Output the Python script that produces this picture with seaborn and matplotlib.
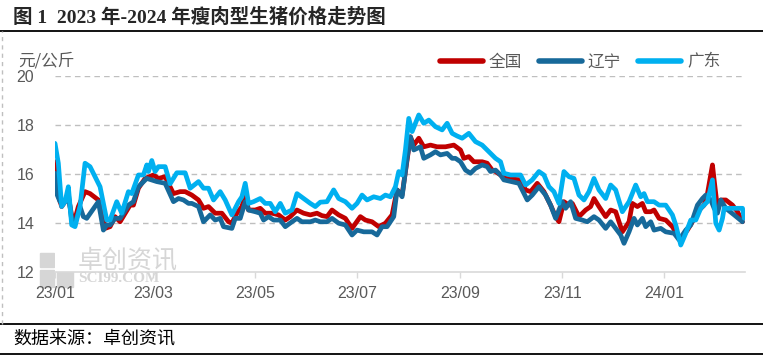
import pandas as pd
import numpy as np
import seaborn as sns
import matplotlib.pyplot as plt
import matplotlib.dates as mdates
from matplotlib.lines import Line2D
from matplotlib.patches import Rectangle

# days counted from 2023-01-01, prices in yuan/kg
gd_days = [0, 2, 4, 6, 8, 10, 12, 15, 18, 21, 27, 31, 33, 37, 40, 44, 46, 50, 53, 55, 56, 58, 60, 62, 66, 69, 73, 78, 81, 86,
           89, 92, 95, 99, 102, 106, 110, 112, 114, 116, 119, 123, 126, 129, 132, 135, 138, 142, 145, 149, 153, 156, 159, 163,
           167, 170, 174, 178, 181, 184, 187, 191, 195, 198, 201, 204, 206, 208, 210, 212, 214, 218, 221, 224, 228, 232, 235,
           238, 241, 244, 248, 252, 256, 260, 264, 267, 269, 273, 279, 282, 286, 290, 293, 296, 299, 302, 305, 308, 311, 314,
           317, 320, 323, 326, 330, 333, 336, 340, 344, 348, 351, 353, 355, 359, 362, 366, 370, 372, 375, 378, 381, 384, 387,
           391, 394, 396, 398, 400, 401, 412, 413]
gd_vals = [17.25, 16.44, 14.67, 14.87, 15.48, 13.92, 13.85, 14.67, 16.44, 16.3, 15.48, 14.12, 14.12, 14.87, 14.4, 15.28, 15.2,
           15.96, 15.96, 16.37, 16.1, 16.55, 16.1, 16.3, 16.3, 15.6, 16.05, 16.05, 15.42, 15.69,
           15.42, 15.42, 14.94, 15.28, 14.94, 14.33, 14.87, 15.07, 15.62, 14.8, 14.87, 15.0, 14.8, 14.8, 14.46, 14.8, 14.4,
           14.53, 15.2, 15.0, 14.8, 14.67, 14.85, 14.87,
           15.35, 15.0, 14.87, 14.6, 14.8, 15.14, 14.94, 15.07, 15.0, 15.14, 15.07, 15.48, 16.1, 15.96, 16.98, 18.27, 17.73,
           18.41, 18.07, 18.2, 17.93, 17.8, 18.07,
           17.66, 17.55, 17.46, 17.66, 17.32, 17.18, 16.91, 16.64, 16.5, 16.03, 15.96, 15.96, 15.55, 15.76, 16.1, 15.96,
           15.48, 15.28, 14.8, 16.1, 15.89, 15.82, 15.14,
           14.94, 15.28, 15.82, 15.35, 15.0, 15.55, 15.35, 14.46, 14.87, 15.55, 15.07, 15.2, 14.87, 14.87, 14.73, 14.73,
           14.33, 13.92, 13.1, 13.58, 14.12, 14.12, 14.6,
           14.87, 15.76, 13.99, 13.71, 14.19, 14.6, 14.6, 14.2]

qg_days = [0, 1, 4, 6, 8, 11, 14, 18, 21, 26, 29, 30, 33, 36, 39, 45, 47, 50, 54, 59, 62, 66, 71, 75, 78, 82, 86, 89, 92, 96,
           100, 104, 106, 109, 112, 114, 116, 120, 123, 126, 130, 134, 138, 141, 145, 149, 153, 157, 160, 163, 166, 170, 174,
           178, 183, 186, 190, 194, 198, 202, 205, 208, 211, 213, 215, 218, 221, 225, 229, 234, 239, 243, 245, 248, 251, 256,
           259, 262, 264, 267, 270, 279, 282, 285, 289, 293, 297, 300, 302, 305, 308, 310, 314, 318, 321, 323, 326, 330, 333,
           336, 340, 344, 346, 349, 352, 354, 357, 359, 362, 366, 370, 373, 375, 379, 382, 385, 389, 391, 394, 395, 397, 399,
           402, 406, 409, 412]
qg_vals = [16.5, 15.35, 14.67, 14.87, 15.07, 13.92, 14.67, 15.28, 15.2, 14.94, 14.26, 13.78, 13.85, 14.26, 14.05, 14.73, 14.73,
           15.42, 15.82, 15.96, 15.82, 15.89, 15.2, 15.28, 15.28, 15.14, 14.94, 14.6, 14.67, 14.4,
           14.4, 14.05, 13.99, 14.4, 14.67, 15.14, 14.53, 14.53, 14.6, 14.4, 14.4, 14.33, 14.12, 14.26, 14.53, 14.4, 14.33,
           14.4, 14.3, 14.26, 14.53, 14.33, 14.19,
           13.78, 14.26, 14.12, 14.05, 13.85, 13.99, 14.33, 15.35, 15.14, 16.57, 17.52, 17.18, 17.46, 17.11, 17.18, 17.11,
           17.11, 17.18, 16.98, 16.64, 16.71, 16.5, 16.5,
           16.44, 16.16, 16.1, 15.96, 15.82, 15.76, 15.35, 15.28, 15.62, 15.28, 14.73, 14.26, 14.05, 14.87, 14.73, 14.8,
           14.26, 14.53, 14.67, 15.0, 14.67, 14.26, 14.53,
           14.46, 13.64, 14.05, 14.8, 14.67, 14.8, 14.46, 14.46, 14.53, 14.19, 14.12, 13.85, 13.51, 13.38, 13.71, 14.05,
           14.46, 14.73, 15.2, 16.37, 15.76, 14.6, 14.94,
           14.94, 14.73, 14.46, 14.05]

ln_days = [0, 1, 3, 6, 8, 10, 12, 15, 17, 19, 26, 29, 31, 33, 36, 39, 44, 47, 50, 55, 61, 66, 71, 74, 77, 80, 82, 86, 89, 93,
           96, 99, 101, 106, 108, 111, 114, 116, 120, 123, 125, 128, 131, 135, 138, 142, 145, 148, 153, 156, 159, 163, 166,
           170, 174, 178, 181, 185, 190, 193, 196, 199, 203, 205, 208, 211, 213, 215, 219, 221, 225, 228, 231, 235, 238, 240,
           243, 246, 249, 252, 256, 259, 261, 264, 267, 269, 278, 280, 283, 286, 290, 294, 297, 300, 302, 304, 306, 309, 312,
           316, 319, 323, 326, 330, 333, 336, 339, 341, 344, 347, 349, 352, 354, 357, 359, 363, 366, 371, 374, 378, 381, 385,
           388, 390, 393, 395, 397, 399, 402, 407, 412]
ln_vals = [16.03, 15.2, 14.87, 14.87, 15.2, 14.12, 13.99, 14.67, 14.26, 14.19, 14.87, 13.71, 13.92, 13.92, 14.19, 14.19, 14.73,
           14.87, 15.48, 15.82, 15.69, 15.62, 14.87, 15.0, 14.94, 14.8, 14.8, 14.67, 14.05, 14.33,
           14.12, 14.19, 13.85, 13.78, 14.19, 14.19, 14.87, 14.53, 14.46, 14.4, 14.12, 14.26, 14.12, 14.12, 13.85, 14.05,
           14.19, 14.05, 14.05, 14.12, 14.05, 14.05, 14.19,
           13.99, 13.92, 13.51, 13.71, 13.64, 13.64, 13.51, 13.85, 13.85, 14.26, 15.35, 15.07, 16.64, 17.52, 16.98, 17.11,
           16.64, 16.78, 16.91, 16.78, 16.84, 16.64, 16.64,
           16.5, 16.16, 16.03, 16.23, 16.37, 16.3, 16.1, 16.16, 15.96, 15.76, 15.62, 15.35, 14.94, 15.14, 15.48, 15.14,
           14.73, 14.19, 14.53, 14.87, 14.6, 14.87, 14.19,
           14.12, 14.05, 14.26, 14.12, 13.78, 14.05, 13.78, 13.51, 13.17, 13.64, 14.19, 13.92, 14.19, 13.85, 14.05, 13.71,
           13.78, 13.64, 13.58, 13.31, 13.71, 13.92, 14.73,
           15.0, 15.14, 14.94, 14.6, 14.4, 14.94, 14.6, 14.33, 14.05]

regions = ['全国', '辽宁', '广东']
colors = ['#C00000', '#17699A', '#00B0F0']
start = pd.Timestamp('2023-01-01')

frames = []
for name, d, v in zip(regions, [qg_days, ln_days, gd_days], [qg_vals, ln_vals, gd_vals]):
    frames.append(pd.DataFrame({'date': start + pd.to_timedelta(d, unit='D'), 'price': v, 'region': name}))
df = pd.concat(frames, ignore_index=True)

sns.set_theme(style='white')
plt.rcParams['font.family'] = ['Liberation Sans', 'Noto Sans CJK SC']
plt.rcParams['axes.unicode_minus'] = False

fig = plt.figure(figsize=(7.63, 3.55), dpi=100)
ax = fig.add_axes([55 / 763, 83 / 355, 690 / 763, 196 / 355])

sns.lineplot(data=df, x='date', y='price', hue='region', hue_order=regions, palette=colors,
             estimator=None, sort=True, linewidth=3.4, ax=ax,
             solid_joinstyle='round', solid_capstyle='round')

ax.set_xlim(start, start + pd.Timedelta(days=413.5))
ax.set_ylim(12, 20)
ax.set_yticks([12, 14, 16, 18, 20])
ax.set_xlabel('')
ax.set_ylabel('')

ax.xaxis.set_major_locator(mdates.MonthLocator(bymonth=[1, 3, 5, 7, 9, 11]))
ax.xaxis.set_major_formatter(mdates.DateFormatter('%y/%m'))

for side in ['left', 'right', 'top']:
    ax.spines[side].set_visible(False)
ax.spines['bottom'].set_color('#D9D9D9')
ax.spines['bottom'].set_linewidth(1.2)

ax.tick_params(axis='x', bottom=True, length=4, width=1, color='#D9D9D9', pad=6,
               labelsize=11.5, labelcolor='#595959')
ax.tick_params(axis='y', left=False, pad=9, labelsize=11.5, labelcolor='#595959')

ax.grid(False)
ax.yaxis.grid(True, color='#BFBFBF', linestyle=(0, (4, 3)), linewidth=1)
ax.get_ygridlines()[0].set_visible(False)
ax.set_axisbelow(True)

handles, labels = ax.get_legend_handles_labels()
leg = ax.legend(handles, labels, ncol=3, loc='center', bbox_to_anchor=(580 / 763, 293.3 / 355),
                bbox_transform=fig.transFigure, frameon=False, fontsize=12,
                handlelength=2.6, handletextpad=0.35, columnspacing=1.0)
for line in leg.get_lines():
    line.set_linewidth(4)
    line.set_solid_capstyle('round')
for t in leg.get_texts():
    t.set_color('#595959')

# title, frame lines and notes
fig.text(13 / 763, 338 / 355, '图 1  2023 年-2024 年瘦肉型生猪价格走势图', fontsize=14, fontweight='bold',
         va='center', ha='left', family=['Liberation Serif', 'Noto Sans CJK SC'])
fig.add_artist(Line2D([0, 1], [324 / 355, 324 / 355], color='black', lw=1.3, transform=fig.transFigure))
fig.add_artist(Line2D([0, 1], [31 / 355, 31 / 355], color='black', lw=1.3, transform=fig.transFigure))
fig.add_artist(Line2D([0, 1], [1.5 / 355, 1.5 / 355], color='black', lw=1.3, transform=fig.transFigure))
fig.add_artist(Line2D([2 / 763, 2 / 763], [31 / 355, 324 / 355], color='#BFBFBF', lw=1,
                      linestyle=(0, (3, 3)), transform=fig.transFigure))
fig.text(18 / 763, 293.5 / 355, '元/公斤', fontsize=12, color='#595959', va='center', ha='left',
         family=['Noto Sans CJK SC'])
fig.text(13 / 763, 15 / 355, '数据来源：卓创资讯', fontsize=13, color='black', va='center', ha='left',
         family=['Noto Sans CJK SC'])

# watermark
wm = '#D6D6D6'
for (x0, y0, w, h) in [(40, 88, 14, 14), (40, 68, 14, 17), (57, 68, 16, 17)]:
    fig.add_artist(Rectangle((x0 / 763, y0 / 355), w / 763, h / 355, color=wm, transform=fig.transFigure, zorder=0))
for i in range(3):
    for j in range(3):
        fig.add_artist(Rectangle(((58 + i * 5) / 763, (89 + j * 5) / 355), 3 / 763, 3 / 355, color=wm,
                                 transform=fig.transFigure, zorder=0))
fig.text(78 / 763, 95 / 355, '卓创资讯', fontsize=18, color=wm, va='center', ha='left',
         family=['Noto Sans CJK SC'], zorder=0)
fig.text(78 / 763, 76 / 355, 'SCI99.COM', fontsize=11, color=wm, va='center', ha='left',
         family=['Liberation Serif'], fontweight='bold', zorder=0)

fig.savefig('out.png', dpi=100)
plt.close()
